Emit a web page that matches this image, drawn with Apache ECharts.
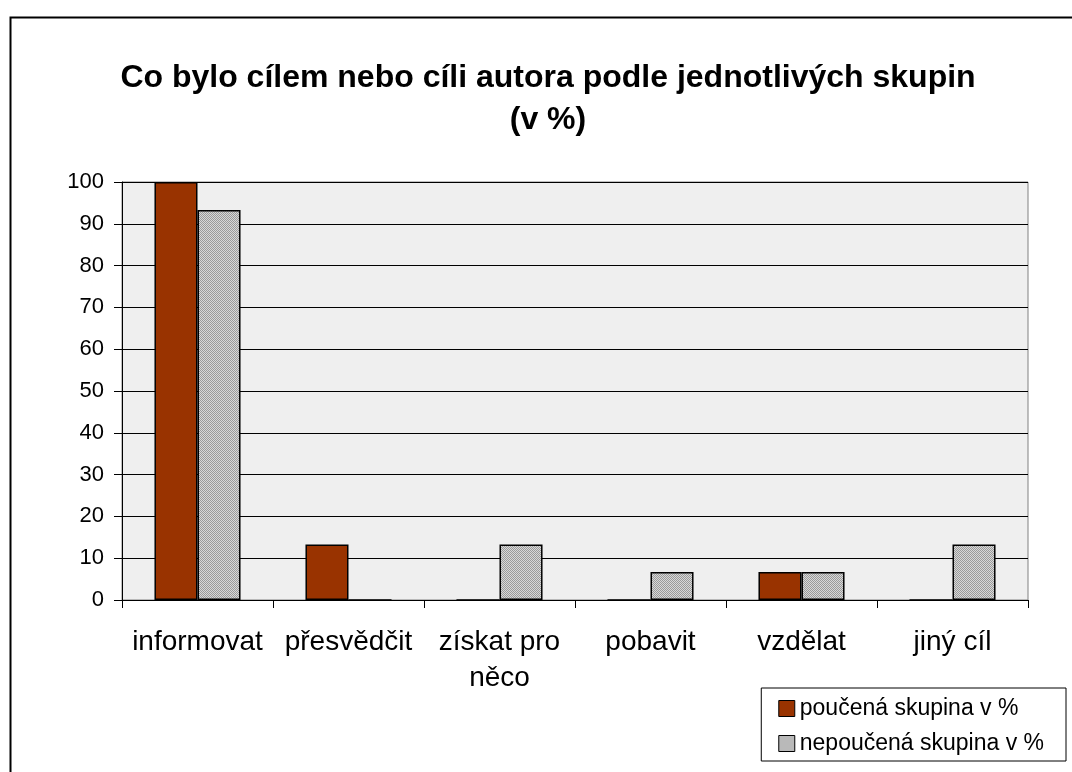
<!DOCTYPE html>
<html style="height: 100%;margin: 0;padding: 0;">
<head>
    <meta charset="utf-8">
    <title>Co bylo cílem nebo cíli autora</title>
    <script src="https://cdn.jsdelivr.net/npm/echarts@6/dist/echarts.min.js"></script>
</head>
<body style="height: 100%;margin: 0;padding: 0;background:#fff;">
<div id="main" style="width:1072px;height:772px;"></div>
<script type="text/javascript">
var categories = ['informovat', 'přesvědčit', 'získat pro\nněco', 'pobavit', 'vzdělat', 'jiný cíl'];
var poucena = [100, 13.3, 0, 0, 6.7, 0];
var nepoucena = [93.3, 0, 13.3, 6.7, 6.7, 13.3];
var seriesNames = ['poučená skupina v %', 'nepoučená skupina v %'];

// kostkovany vzor pro sedive sloupce
function checker() {
    var c = document.createElement('canvas');
    c.width = 2; c.height = 2;
    var ctx = c.getContext('2d');
    ctx.fillStyle = '#d8d8d8'; ctx.fillRect(0, 0, 2, 2);
    ctx.fillStyle = '#9a9a9a'; ctx.fillRect(0, 0, 1, 1); ctx.fillRect(1, 1, 1, 1);
    return c;
}
var grayFill = { image: checker(), repeat: 'repeat' };

var myChart = echarts.init(document.getElementById('main'));
var font = 'Liberation Sans, Arial, sans-serif';
var option = {
    animation: false,
    textStyle: { fontFamily: font },
    title: {
        text: 'Co bylo cílem nebo cíli autora podle jednotlivých skupin\n(v %)',
        left: 543, top: 52, textAlign: 'center',
        textStyle: { fontSize: 32, fontWeight: 'bold', color: '#000', lineHeight: 42, fontFamily: font }
    },
    graphic: [{
        type: 'rect', left: 8, top: 15, z: -1,
        shape: { width: 1080, height: 780 },
        style: { fill: 'none', stroke: '#000', lineWidth: 2 }
    }],
    grid: {
        left: 122, right: 44, top: 182, bottom: 172,
        show: true, backgroundColor: '#efefef', borderColor: '#808080', borderWidth: 1
    },
    legend: {
        right: 6, bottom: 11, orient: 'vertical', icon: 'rect',
        padding: [9, 22, 6, 17], itemGap: 12,
        backgroundColor: '#fff', borderColor: '#000', borderWidth: 1, borderRadius: 0,
        itemWidth: 16, itemHeight: 16,
        textStyle: { fontSize: 23, color: '#000', fontFamily: font },
        data: [
            { name: seriesNames[0], itemStyle: { color: '#993300', borderColor: '#000', borderWidth: 1 } },
            { name: seriesNames[1], itemStyle: { color: grayFill, borderColor: '#000', borderWidth: 1 } }
        ]
    },
    xAxis: {
        type: 'category', data: categories,
        axisLine: { lineStyle: { color: '#000', width: 1 } },
        axisTick: { show: true, length: 8, lineStyle: { color: '#000' } },
        axisLabel: { fontSize: 28, color: '#000', margin: 24, lineHeight: 36, fontFamily: font, interval: 0 }
    },
    yAxis: {
        type: 'value', min: 0, max: 100, interval: 10,
        axisLine: { show: true, lineStyle: { color: '#000' } },
        axisTick: { show: true, length: 8, lineStyle: { color: '#000' } },
        axisLabel: { fontSize: 22, color: '#000', margin: 18, fontFamily: font },
        splitLine: { show: true, lineStyle: { color: '#000', width: 1 } }
    },
    series: [{
        name: seriesNames[0], type: 'bar', data: poucena,
        barGap: '0%', barCategoryGap: '43%',
        itemStyle: { color: '#993300', borderColor: '#000', borderWidth: 1.5 }
    }, {
        name: seriesNames[1], type: 'bar', data: nepoucena,
        itemStyle: { color: grayFill, borderColor: '#000', borderWidth: 1.5 }
    }]
};
myChart.setOption(option);
</script>
</body>
</html>
